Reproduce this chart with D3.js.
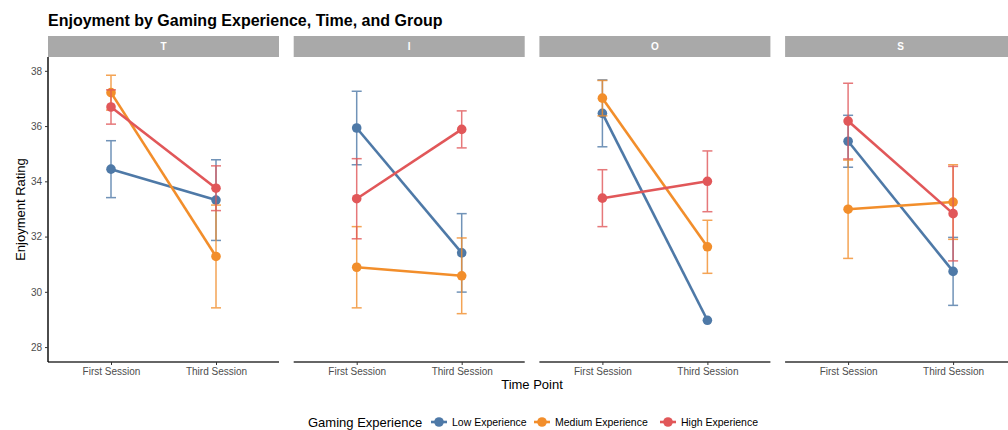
<!DOCTYPE html>
<html>
<head>
<meta charset="utf-8">
<script src="https://cdn.jsdelivr.net/npm/d3@7"></script>
<style>
  html, body { margin: 0; padding: 0; background: #fff; }
  svg { display: block; overflow: hidden; }
  text { font-family: "Liberation Sans", Arial, sans-serif; }
</style>
</head>
<body>
<svg id="chart" width="1008" height="430"></svg>
<script>
// Facets, time points and experience groups
const groups = ["T", "I", "O", "S"];
const timePoints = ["First Session", "Third Session"];
const experience = ["Low Experience", "Medium Experience", "High Experience"];
const colors = ["#4E79A7", "#F28E2B", "#E15759"];
const yTicks = [28, 30, 32, 34, 36, 38];

// Mean enjoyment per group: [first, third] for each experience level
const lowMean    = { T: [34.44, 33.32], I: [35.93, 31.41], O: [36.46, 28.97], S: [35.45, 30.74] };
const mediumMean = { T: [37.21, 31.28], I: [30.89, 30.58], O: [37.01, 31.63], S: [32.99, 33.25] };
const highMean   = { T: [36.69, 33.75], I: [33.37, 35.88], O: [33.39, 34.00], S: [36.18, 32.83] };

// Error half-widths (null where no interval is drawn)
const lowErr    = { T: [1.03, 1.46], I: [1.33, 1.42], O: [1.21, null], S: [0.94, 1.23] };
const mediumErr = { T: [0.63, 1.86], I: [1.47, 1.37], O: [0.64, 0.96], S: [1.78, 1.35] };
const highErr   = { T: [0.62, 0.81], I: [1.45, 0.67], O: [1.03, 1.10], S: [1.37, 1.71] };

const means = [lowMean, mediumMean, highMean];
const errs = [lowErr, mediumErr, highErr];

const svg = d3.select("#chart");

const panelLeft = 48, panelW = 231, panelGap = 14.7;
const panelTop = 57, panelBottom = 362;
const stripTop = 36;

const y = d3.scaleLinear().domain([27.46, 38.5]).range([panelBottom, panelTop]);

// Title
svg.append("text")
  .attr("x", 48).attr("y", 26)
  .attr("font-size", 16).attr("font-weight", "bold").attr("fill", "#000")
  .text("Enjoyment by Gaming Experience, Time, and Group");

groups.forEach((g, gi) => {
  const x0 = panelLeft + gi * (panelW + panelGap);
  const x = d3.scalePoint().domain(timePoints).range([x0, x0 + panelW]).padding(0.6);

  const panel = svg.append("g");

  // Strip
  panel.append("rect")
    .attr("x", x0).attr("y", stripTop).attr("width", panelW).attr("height", panelTop - stripTop)
    .attr("fill", "#A9A9A9");
  panel.append("text")
    .attr("x", x0 + panelW / 2).attr("y", (stripTop + panelTop) / 2 + 3.5)
    .attr("text-anchor", "middle").attr("font-size", 10).attr("font-weight", "bold")
    .attr("fill", "#fff").text(g);

  // Bottom axis
  const xAxis = d3.axisBottom(x).tickSize(3).tickPadding(3);
  const ax = panel.append("g").attr("transform", `translate(0,${panelBottom})`).call(xAxis);
  ax.select(".domain").attr("stroke", "#333").attr("stroke-width", 1.4).attr("d", `M${x0},0H${x0 + panelW}`);
  ax.selectAll(".tick line").attr("stroke", "#333");
  ax.selectAll(".tick text").attr("font-size", 10).attr("fill", "#4D4D4D")
    .style("font-family", "'Liberation Sans', Arial, sans-serif");

  // Left axis on the first panel
  if (gi === 0) {
    const yAxis = d3.axisLeft(y).tickValues(yTicks).tickSize(3).tickPadding(3);
    const ay = panel.append("g").attr("transform", `translate(${x0},0)`).call(yAxis);
    ay.select(".domain").attr("stroke", "#000").attr("stroke-width", 1.4)
      .attr("d", `M0,${panelTop}V${panelBottom}`);
    ay.selectAll(".tick line").attr("stroke", "#333");
    ay.selectAll(".tick text").attr("font-size", 10).attr("fill", "#4D4D4D")
      .style("font-family", "'Liberation Sans', Arial, sans-serif");
  }

  experience.forEach((e, ei) => {
    const m = means[ei][g];
    const er = errs[ei][g];
    const col = colors[ei];

    // Error bars
    timePoints.forEach((t, ti) => {
      if (er[ti] == null) return;
      const cx = x(t);
      const lo = m[ti] - er[ti], hi = m[ti] + er[ti];
      const eb = panel.append("g").attr("stroke", col).attr("stroke-width", 1.5).attr("opacity", 0.8);
      eb.append("line").attr("x1", cx).attr("x2", cx).attr("y1", y(lo)).attr("y2", y(hi));
      eb.append("line").attr("x1", cx - 5).attr("x2", cx + 5).attr("y1", y(lo)).attr("y2", y(lo));
      eb.append("line").attr("x1", cx - 5).attr("x2", cx + 5).attr("y1", y(hi)).attr("y2", y(hi));
    });

    // Line
    const line = d3.line().x((d, i) => x(timePoints[i])).y(d => y(d));
    panel.append("path").datum(m)
      .attr("d", line).attr("fill", "none").attr("stroke", col).attr("stroke-width", 2.6);

    // Points
    panel.selectAll(null).data(m).enter().append("circle")
      .attr("cx", (d, i) => x(timePoints[i])).attr("cy", d => y(d))
      .attr("r", 4.8).attr("fill", col);
  });
});

// Axis titles
svg.append("text")
  .attr("x", 532).attr("y", 389).attr("text-anchor", "middle")
  .attr("font-size", 13).attr("fill", "#000").text("Time Point");
svg.append("text")
  .attr("transform", `translate(25,${(panelTop + panelBottom) / 2}) rotate(-90)`)
  .attr("text-anchor", "middle").attr("font-size", 13).attr("fill", "#000").text("Enjoyment Rating");

// Legend
const legend = svg.append("g");
legend.append("text")
  .attr("x", 308).attr("y", 427).attr("font-size", 13).attr("fill", "#000").text("Gaming Experience");
const keyX = [439, 542, 668];
experience.forEach((e, ei) => {
  const k = legend.append("g");
  k.append("line").attr("x1", keyX[ei] - 8).attr("x2", keyX[ei] + 8)
    .attr("y1", 422).attr("y2", 422).attr("stroke", colors[ei]).attr("stroke-width", 2.6);
  k.append("circle").attr("cx", keyX[ei]).attr("cy", 422).attr("r", 4.8).attr("fill", colors[ei]);
  k.append("text").attr("x", keyX[ei] + 13).attr("y", 425.5)
    .attr("font-size", 10.5).attr("fill", "#000").text(e);
});
</script>
</body>
</html>
